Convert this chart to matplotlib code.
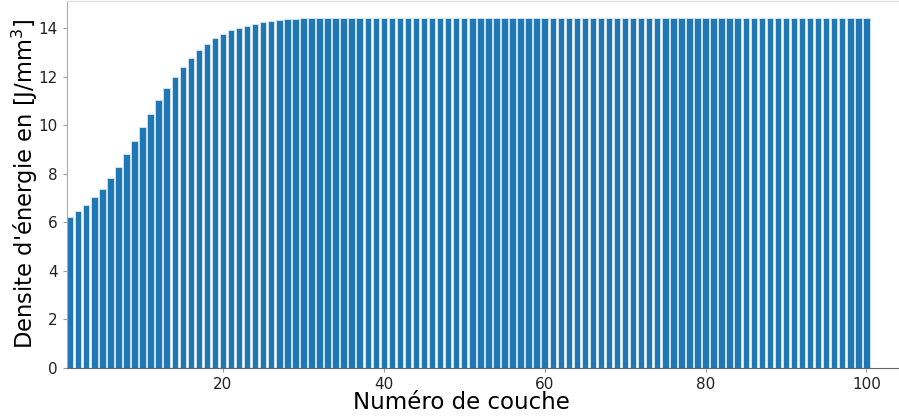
import matplotlib.pyplot as plt
import numpy as np

# Energy density per layer [J/mm^3]
layers = list(range(1, 101))
density = [
    6.23, 6.46, 6.71, 7.04, 7.39, 7.83, 8.28, 8.81, 9.35, 9.93,
    10.48, 11.06, 11.54, 12.01, 12.43, 12.80, 13.11, 13.37, 13.60, 13.78,
    13.92, 14.03, 14.12, 14.20, 14.25, 14.29, 14.33, 14.37, 14.39, 14.41,
    14.42, 14.43, 14.44, 14.45, 14.45, 14.45, 14.45, 14.45, 14.45, 14.45,
    14.45, 14.45, 14.45, 14.45, 14.45, 14.45, 14.45, 14.45, 14.45, 14.45,
    14.45, 14.45, 14.45, 14.45, 14.45, 14.45, 14.45, 14.45, 14.45, 14.45,
    14.45, 14.45, 14.45, 14.45, 14.45, 14.45, 14.45, 14.45, 14.45, 14.45,
    14.45, 14.45, 14.45, 14.45, 14.45, 14.45, 14.45, 14.45, 14.45, 14.45,
    14.45, 14.45, 14.45, 14.45, 14.45, 14.45, 14.45, 14.45, 14.45, 14.45,
    14.45, 14.45, 14.45, 14.45, 14.45, 14.45, 14.45, 14.45, 14.45, 14.45,
]

fig = plt.figure(figsize=(8.99, 4.19), dpi=100)
ax = fig.add_axes([0.0745, 0.1217, 0.925, 0.877])

ax.bar(layers, density, width=0.8, color="#1f77b4",
       edgecolor="#d6e6f4", linewidth=0.6)

ax.set_xlim(0.6, 104)
ax.set_ylim(0, 15.15)
ax.set_xticks([20, 40, 60, 80, 100])
ax.set_yticks([0, 2, 4, 6, 8, 10, 12, 14])

ax.set_xlabel("Numéro de couche", fontsize=16.5)
ax.xaxis.set_label_coords(0.474, -0.062)
ax.set_ylabel("Densite d'énergie en [J/mm$^3$]", fontsize=16.3, labelpad=-1)
ax.tick_params(axis="both", labelsize=11, colors="#222222",
               length=3, width=0.8)
ax.tick_params(axis="both", color="#999999")

ax.spines["left"].set_color("#aaaaaa")
ax.spines["bottom"].set_color("#666666")
ax.spines["top"].set_color("#dddddd")
ax.spines["right"].set_visible(False)

plt.savefig("out.png", dpi=100)
